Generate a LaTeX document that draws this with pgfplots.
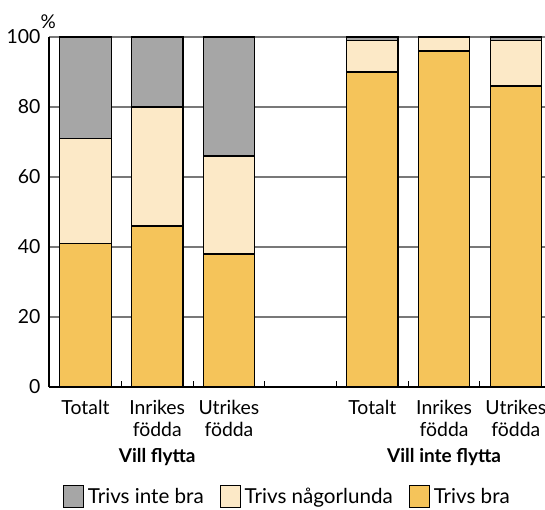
\documentclass[border=0pt]{standalone}
\usepackage{fontspec}
\setmainfont{Lato}
\usepackage{pgfplots}
\pgfplotsset{compat=1.18}
\definecolor{cbad}{RGB}{166,166,166}
\definecolor{cmid}{RGB}{252,233,199}
\definecolor{cgood}{RGB}{245,196,90}
\definecolor{cgrid}{RGB}{120,120,120}
\begin{document}
\fontsize{9.5pt}{11.5pt}\selectfont
\begin{tikzpicture}
\begin{axis}[
  scale only axis,
  width=248pt, height=175pt,
  xmin=-0.509, xmax=6.407,
  ymin=0, ymax=100,
  ybar stacked,
  bar width=25.7pt,
  clip=false,
  axis lines*=left,
  axis line style={black, line width=0.6pt},
  ytick={0,20,40,60,80,100},
  ymajorgrids,
  grid style={cgrid, line width=0.6pt},
  ytick style={draw=none},
  xtick={0,1,2,4,5,6},
  xticklabels={Totalt,Inrikes\\födda,Utrikes\\födda,Totalt,Inrikes\\födda,Utrikes\\födda},
  xticklabel style={align=center, yshift=-3pt, font=\fontsize{9.7pt}{11pt}\selectfont},
  major x tick style={draw=none},
  minor xtick={0.5,1.5,2.5,3.5,4.5,5.5},
  minor x tick style={black, line width=0.5pt},
  minor tick length=3pt,
  tick align=inside,
  /pgf/number format/assume math mode=true,
  yticklabel style={xshift=-1pt, font=\fontsize{9.7pt}{11pt}\selectfont},
  every axis plot/.append style={draw=black, line width=0.6pt},
  legend columns=3,
  reverse legend,
  legend style={at={(0.028,-0.314)}, anchor=west, draw=none, inner sep=0pt, outer sep=0pt,
    font=\fontsize{10.3pt}{12pt}\selectfont,
    /tikz/every even column/.append style={column sep=6pt}},
  legend image code/.code={\draw[#1, line width=0.5pt] (0pt,-5.5pt) rectangle (10pt,5.5pt);},
]
\addplot[fill=cgood] coordinates {(0,41) (1,46) (2,38) (4,90) (5,96) (6,86)};
\addplot[fill=cmid] coordinates {(0,30) (1,34) (2,28) (4,9) (5,4) (6,13)};
\addplot[fill=cbad] coordinates {(0,29) (1,20) (2,34) (4,1) (5,0) (6,1)};
\legend{Trivs bra,Trivs någorlunda,Trivs inte bra}
\node[anchor=base, font=\bfseries] at (axis cs:1,-21.6) {Vill flytta};
\node[anchor=base, font=\bfseries] at (axis cs:5,-21.6) {Vill inte flytta};
\node at (axis cs:-0.52,104.5) {\%};
\coordinate (bl) at (rel axis cs:-0.0988,-0.3514);
\coordinate (tr) at (rel axis cs:1,1.1057);
\end{axis}
\pgfresetboundingbox
\path (bl) rectangle (tr);
\end{tikzpicture}
\end{document}
